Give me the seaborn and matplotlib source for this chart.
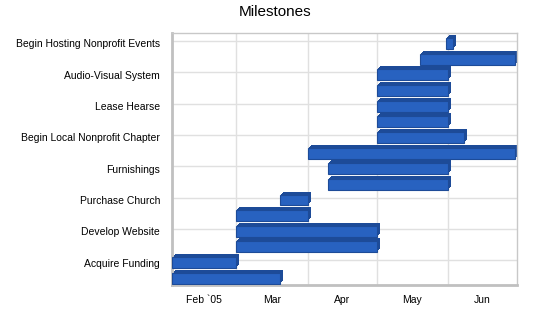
import matplotlib
matplotlib.use("Agg")
import matplotlib.pyplot as plt
import matplotlib.dates as mdates
from matplotlib.transforms import ScaledTranslation
import pandas as pd
import seaborn as sns

# task labels (only every other bar carries a label in the original)
tick_labels = ["Begin Hosting Nonprofit Events", "Audio-Visual System", "Lease Hearse",
               "Begin Local Nonprofit Chapter", "Furnishings", "Purchase Church",
               "Develop Website", "Acquire Funding"]

# bars, top to bottom
starts = ["2005-05-31", "2005-05-20", "2005-05-01", "2005-05-01",
          "2005-05-01", "2005-05-01", "2005-05-01", "2005-04-01",
          "2005-04-10", "2005-04-10", "2005-03-20", "2005-03-01",
          "2005-03-01", "2005-03-01", "2005-02-01", "2005-02-01"]
ends = ["2005-06-03", "2005-06-30", "2005-06-01", "2005-06-01",
        "2005-06-01", "2005-06-01", "2005-06-08", "2005-06-30",
        "2005-06-01", "2005-06-01", "2005-04-01", "2005-04-01",
        "2005-05-01", "2005-05-01", "2005-03-01", "2005-03-20"]

months = ["Feb `05", "Mar", "Apr", "May", "Jun"]
month_bounds = ["2005-02-01", "2005-03-01", "2005-04-01", "2005-05-01",
                "2005-06-01", "2005-07-01"]

sns.set_style("white")
plt.rcParams['font.family'] = ['Liberation Sans', 'DejaVu Sans']
plt.rcParams['text.color'] = 'black'

df = pd.DataFrame({"start": mdates.date2num(pd.to_datetime(starts)),
                   "end": mdates.date2num(pd.to_datetime(ends))})
df["width"] = df["end"] - df["start"]
df["row"] = range(len(df))
bounds = mdates.date2num(pd.to_datetime(month_bounds))
mids = (bounds[:-1] + bounds[1:]) / 2

fig = plt.figure(figsize=(5.5, 3.18), dpi=100)
ax = fig.add_axes([172 / 550, 1 - 285 / 318, 345 / 550, 252 / 318])

front = "#2862c0"
dark = "#1d4b98"

# extrusion: darker copies shifted up-right
for k in (1, 2, 3):
    off = ax.transData + ScaledTranslation(k / 100, k / 100, fig.dpi_scale_trans)
    ax.barh(df["row"], df["width"], left=df["start"], height=0.7,
            color=dark, linewidth=0, transform=off, zorder=2)
ax.barh(df["row"], df["width"], left=df["start"], height=0.7,
        color=front, edgecolor=dark, linewidth=0.8, zorder=3)

ax.set_xlim(bounds[0], bounds[-1])
ax.set_ylim(15.43, -0.67)

ax.set_yticks(range(0, len(df), 2))
ax.set_yticklabels(tick_labels, fontsize=7.5)
ax.tick_params(axis="y", length=5, color="#d0d0d0", pad=3.5, width=1,
               labelcolor="black")

ax.set_xticks(bounds[1:-1])
ax.set_xticklabels([])
ax.set_xticks(mids, minor=True)
ax.set_xticklabels(months, minor=True, fontsize=7.5)
ax.tick_params(axis="x", which="major", length=16, color="#dcdcdc", width=1)
ax.tick_params(axis="x", which="minor", length=0, pad=7, labelcolor="black")

ax.grid(True, color="#e0e0e0", linewidth=1, zorder=0)
ax.set_axisbelow(True)

# back wall grid sits a little up from the tick marks, floor ticks a little left
up = ScaledTranslation(0, 2.5 / 100, fig.dpi_scale_trans)
for line in ax.get_ygridlines():
    line.set_transform(line.get_transform() + up)
left = ScaledTranslation(-3 / 100, 0, fig.dpi_scale_trans)
for line in ax.xaxis.get_majorticklines():
    line.set_transform(line.get_transform() + left)

ax.spines["left"].set_color("#c0c0c0")
ax.spines["left"].set_linewidth(2)
ax.spines["bottom"].set_color("#c0c0c0")
ax.spines["bottom"].set_linewidth(2)
ax.spines["top"].set_color("#c8c8c8")
ax.spines["top"].set_linewidth(1)
ax.spines["right"].set_color("#c8c8c8")
ax.spines["right"].set_linewidth(1)

fig.suptitle("Milestones", y=1 - 12 / 318, va="center", fontsize=11)

fig.savefig("out.png", dpi=100)
